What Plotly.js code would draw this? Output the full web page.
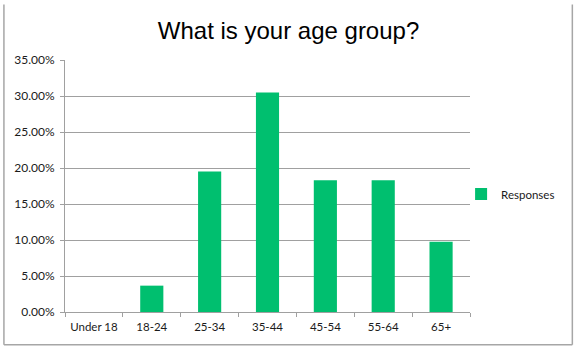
<!DOCTYPE html>
<html>
<head>
<meta charset="utf-8">
<script src="https://cdn.plot.ly/plotly-3.0.1.min.js"></script>
<style>html,body{margin:0;padding:0;background:#fff;}#chart{width:581px;height:359px;}</style>
</head>
<body>
<div id="chart"></div>
<script>
const categories = ["Under 18", "18-24", "25-34", "35-44", "45-54", "55-64", "65+"];
const responses = [0, 0.0366, 0.1951, 0.3049, 0.1829, 0.1829, 0.0976];
const yTickValues = [0, 0.05, 0.10, 0.15, 0.20, 0.25, 0.30, 0.35];
const seriesName = "Responses";
const chartTitle = "What is your age group?";

const tickFont = {family: "Lato, 'Open Sans', sans-serif", size: 11.5, color: "#1a1a1a"};
const gridColor = "#a0a0a0";

const trace = {
  type: "bar",
  x: categories,
  y: responses,
  name: seriesName,
  marker: {color: "#00bf6f", line: {width: 0}},
  hoverinfo: "x+y",
  showlegend: true
};

const layout = {
  width: 581, height: 359,
  margin: {l: 65, r: 111, t: 60, b: 47, pad: 0},
  paper_bgcolor: "#fff", plot_bgcolor: "#fff",
  bargap: 0.6,
  title: {text: chartTitle, font: {family: "'Liberation Sans', Arial, sans-serif", size: 24, color: "#000"},
          x: 0.4966, xref: "container", xanchor: "center", y: 0.916, yref: "container", yanchor: "middle"},
  xaxis: {
    type: "category",
    tickfont: tickFont, tickangle: 0, ticklabelstandoff: 4,
    showline: true, linecolor: gridColor, linewidth: 1,
    ticks: "outside", tickson: "boundaries", ticklen: 4, tickcolor: gridColor,
    showgrid: false, fixedrange: true
  },
  yaxis: {
    range: [0, 0.35], tickvals: yTickValues, tickformat: ".2%",
    tickfont: {family: "Lato, 'Open Sans', sans-serif", size: 12, color: "#1a1a1a"},
    ticklabelstandoff: 3,
    showgrid: true, gridcolor: gridColor, gridwidth: 1,
    zeroline: false,
    showline: true, linecolor: gridColor, linewidth: 1,
    ticks: "outside", ticklen: 4, tickcolor: gridColor,
    fixedrange: true
  },
  showlegend: true,
  legend: {x: 0.978, xanchor: "left", y: 0.468, yanchor: "middle",
           font: tickFont, bgcolor: "rgba(0,0,0,0)", borderwidth: 0},
  shapes: [
    {type: "line", xref: "paper", yref: "paper", x0: -0.1508, x1: -0.1508, y0: -0.1295, y1: 1.22, line: {color: "#a6a6a6", width: 1.5}},
    {type: "line", xref: "paper", yref: "paper", x0: 1.2527, x1: 1.2527, y0: -0.1295, y1: 1.22, line: {color: "#a6a6a6", width: 1.5}},
    {type: "line", xref: "paper", yref: "paper", x0: -0.1508, x1: 1.2527, y0: -0.1295, y1: -0.1295, line: {color: "#a6a6a6", width: 1.5}}
  ]
};

Plotly.newPlot("chart", [trace], layout, {displayModeBar: false, staticPlot: true});
</script>
</body>
</html>
